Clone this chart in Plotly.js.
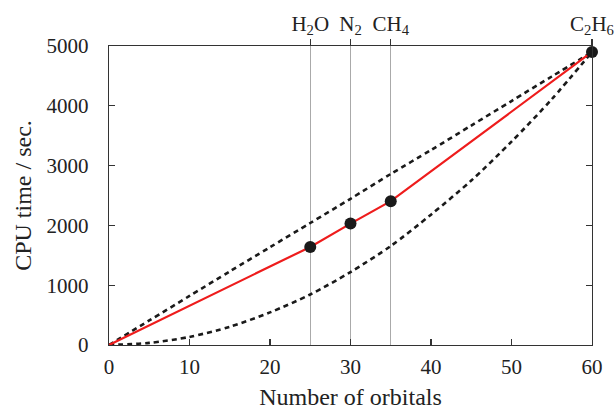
<!DOCTYPE html>
<html>
<head>
<meta charset="utf-8">
<script src="https://cdn.plot.ly/plotly-3.0.1.min.js"></script>
<style>html,body{margin:0;padding:0;background:#fff;}#chart{width:616px;height:410px;}</style>
</head>
<body>
<div id="chart"></div>
<script>
// Measured CPU time (red line)
const orbitals = [0, 25, 30, 35, 60];
const cpuTime = [0, 1640, 2030, 2405, 4900];

// Molecules (top axis labels and markers)
const moleculeLabels = ['H<sub>2</sub>O', 'N<sub>2</sub>', 'CH<sub>4</sub>', 'C<sub>2</sub>H<sub>6</sub>'];
const moleculeOrbitals = [25, 30, 35, 60];
const moleculeTime = [1640, 2030, 2405, 4900];

// Dashed reference curves
const refX = [0, 5, 10, 15, 20, 25, 30, 35, 40, 45, 50, 55, 60];
const upperRef = [0, 410, 820, 1230, 1635, 2040, 2445, 2860, 3260, 3670, 4080, 4490, 4900];
const lowerRef = [0, 35, 135, 305, 545, 845, 1220, 1655, 2180, 2750, 3400, 4110, 4900];

// Axis ticks
const xTicks = [0, 10, 20, 30, 40, 50, 60];
const yTicks = [0, 1000, 2000, 3000, 4000, 5000];

const fam = '"Liberation Serif", "DejaVu Serif", serif';
const font = {family: fam, size: 21, color: '#222'};
const titleFont = {family: fam, size: 24, color: '#222'};
const dash = {color: '#1a1a1a', width: 2.6, dash: '5px,4px', shape: 'spline', smoothing: 0.8};

const traces = [
  {x: refX, y: upperRef, mode: 'lines', line: dash, hoverinfo: 'skip', showlegend: false},
  {x: refX, y: lowerRef, mode: 'lines', line: dash, hoverinfo: 'skip', showlegend: false},
  {x: orbitals, y: cpuTime, mode: 'lines', line: {color: '#ee1c1c', width: 2.2}, showlegend: false},
  {x: moleculeOrbitals, y: moleculeTime, mode: 'markers', marker: {color: '#1a1a1a', size: 12}, showlegend: false, cliponaxis: false},
  {x: moleculeOrbitals, y: moleculeTime, xaxis: 'x2', mode: 'markers', marker: {opacity: 0}, hoverinfo: 'skip', showlegend: false}
];

const layout = {
  width: 616, height: 410,
  margin: {l: 109, r: 24, t: 46, b: 65},
  paper_bgcolor: '#fff', plot_bgcolor: '#fff',
  font: font,
  xaxis: {
    range: [0, 60], tickvals: xTicks, ticks: 'inside', ticklen: 6, tickcolor: '#333', tickwidth: 1.2,
    showline: true, linecolor: '#333', linewidth: 1.3, mirror: true, showgrid: false, zeroline: false,
    tickfont: font, ticklabelstandoff: 2,
    title: {text: 'Number of orbitals', font: titleFont, standoff: 10}
  },
  xaxis2: {
    range: [0, 60], overlaying: 'x', side: 'top', anchor: 'y',
    tickvals: moleculeOrbitals, ticktext: moleculeLabels, ticks: 'outside', ticklen: 6, tickcolor: '#333', tickwidth: 1.2,
    showgrid: true, gridcolor: '#aaaaaa', gridwidth: 1.2, showline: false, zeroline: false,
    tickfont: font, layer: 'below traces'
  },
  yaxis: {
    range: [0, 5000], tickvals: yTicks, ticks: 'inside', ticklen: 6, tickcolor: '#333', tickwidth: 1.2,
    showline: true, linecolor: '#333', linewidth: 1.3, mirror: 'ticks', showgrid: false, zeroline: false,
    tickfont: font, ticklabelstandoff: 15,
    title: {text: 'CPU time / sec.', font: titleFont, standoff: 8}
  }
};

Plotly.newPlot('chart', traces, layout, {staticPlot: true});
</script>
</body>
</html>
